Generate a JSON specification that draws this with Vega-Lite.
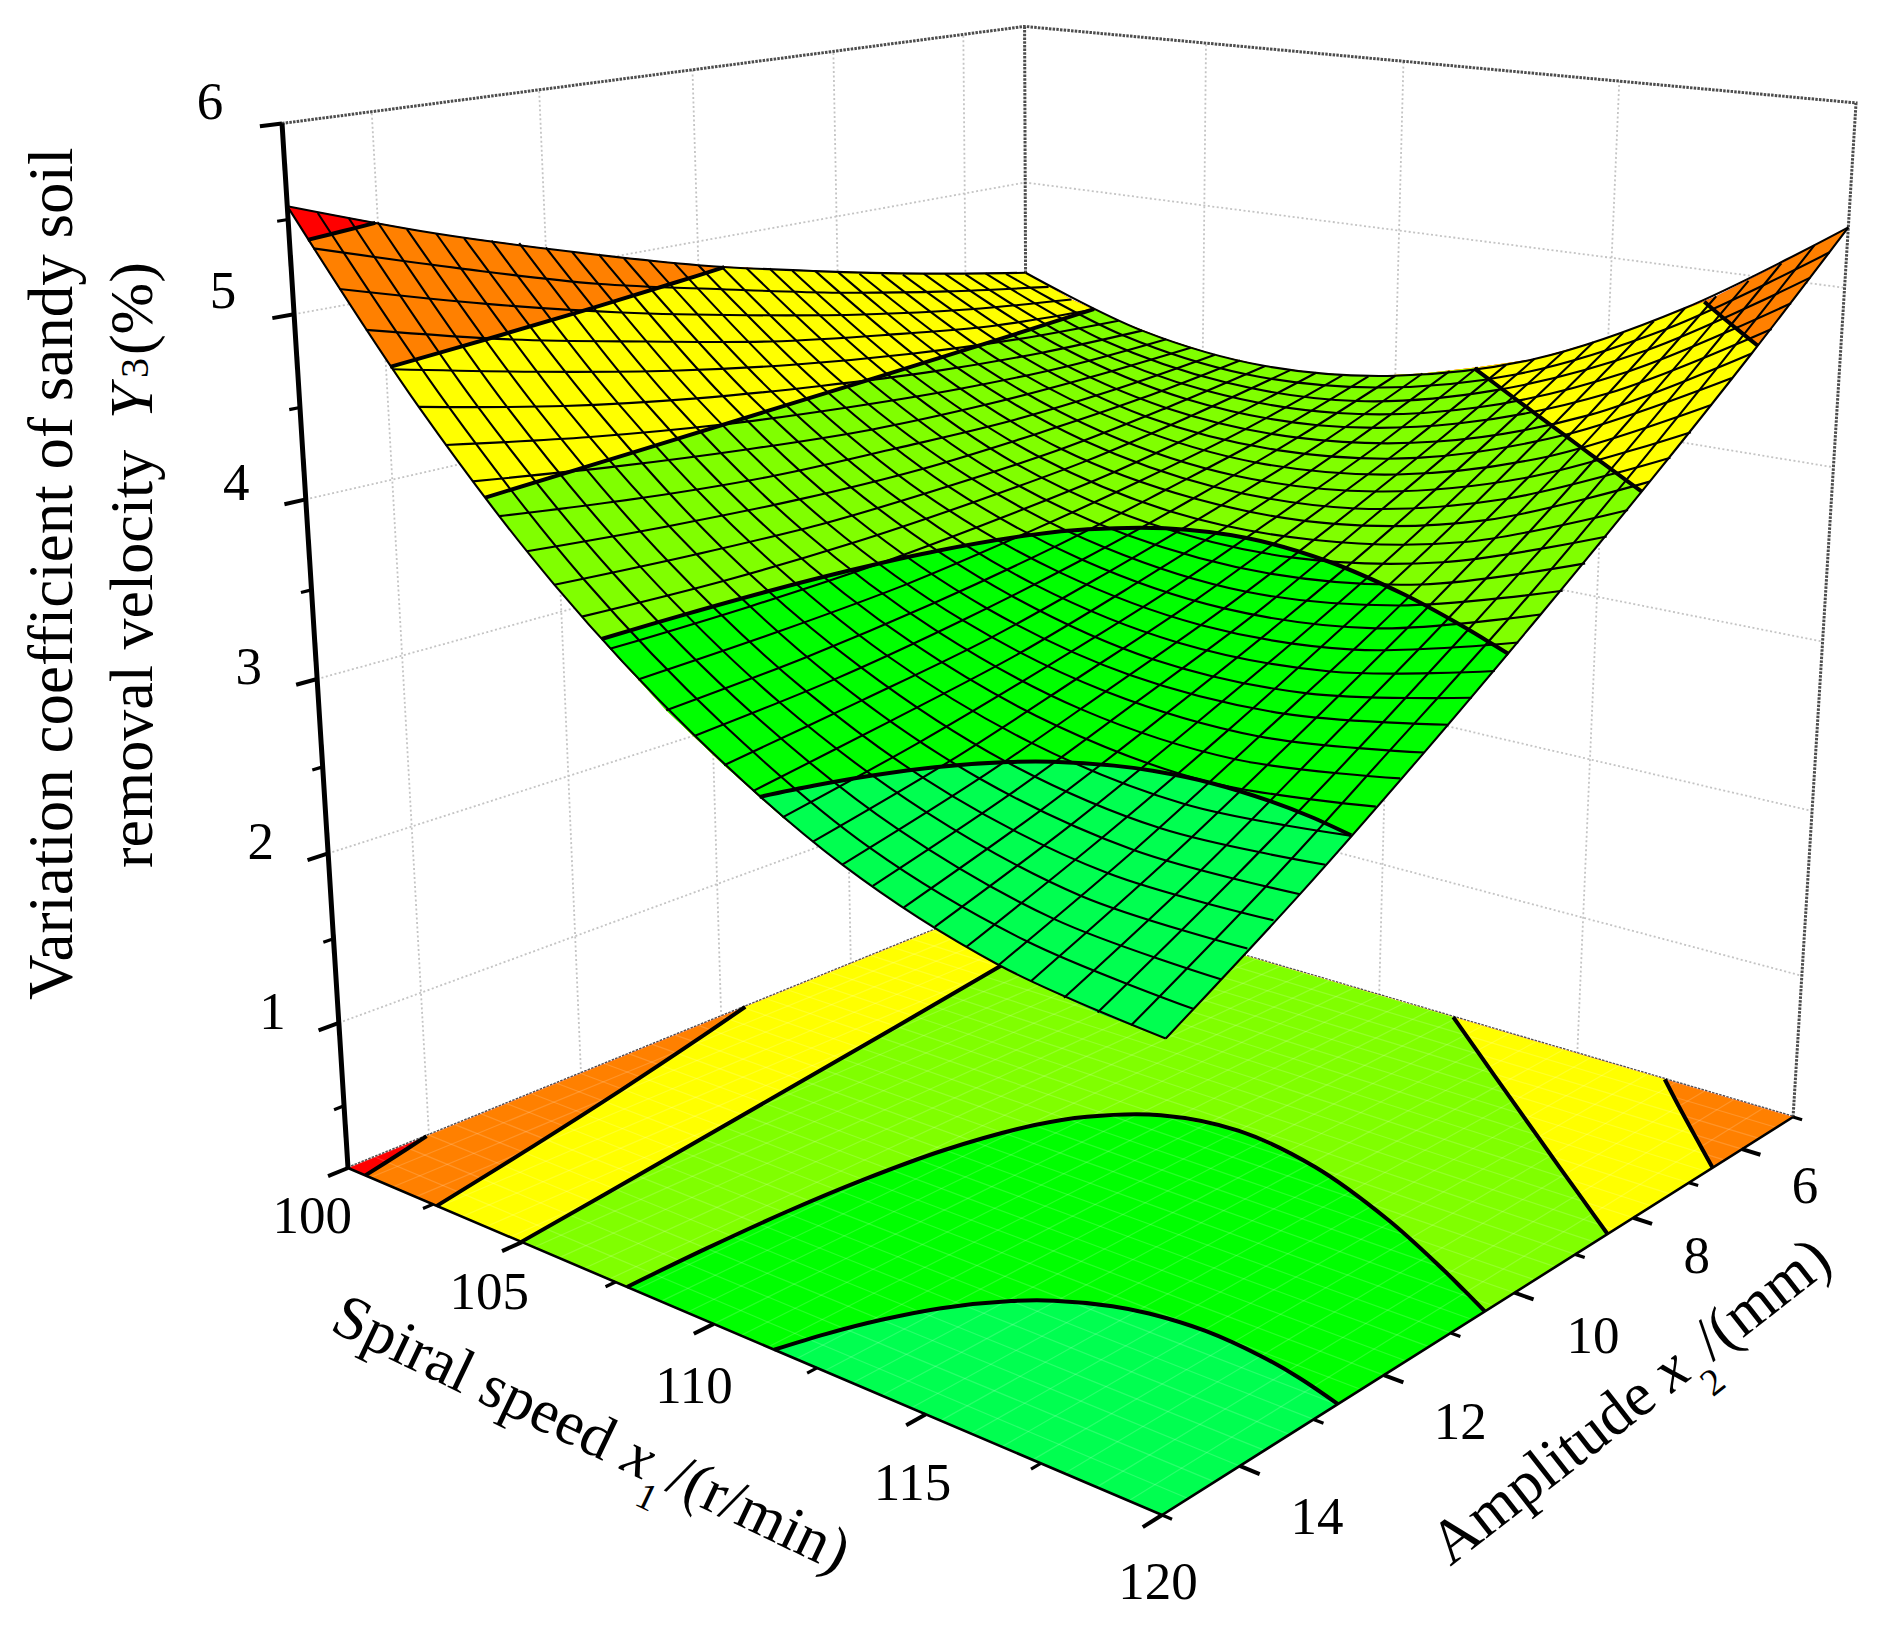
{
"$schema":"https://vega.github.io/schema/vega-lite/v6.json",
"width":1882,"height":1626,"padding":0,"autosize":{"type":"none"},
"background":"white",
"config":{"view":{"stroke":null}},
"data":{"values":[
{"kind":"grid","id":"h1","x1":100,"x2":15,"y3":1},{"kind":"grid","id":"h1","x1":100,"x2":5,"y3":1},{"kind":"grid","id":"h1","x1":120,"x2":5,"y3":1},
{"kind":"grid","id":"h2","x1":100,"x2":15,"y3":2},{"kind":"grid","id":"h2","x1":100,"x2":5,"y3":2},{"kind":"grid","id":"h2","x1":120,"x2":5,"y3":2},
{"kind":"grid","id":"h3","x1":100,"x2":15,"y3":3},{"kind":"grid","id":"h3","x1":100,"x2":5,"y3":3},{"kind":"grid","id":"h3","x1":120,"x2":5,"y3":3},
{"kind":"grid","id":"h4","x1":100,"x2":15,"y3":4},{"kind":"grid","id":"h4","x1":100,"x2":5,"y3":4},{"kind":"grid","id":"h4","x1":120,"x2":5,"y3":4},
{"kind":"grid","id":"h5","x1":100,"x2":15,"y3":5},{"kind":"grid","id":"h5","x1":100,"x2":5,"y3":5},{"kind":"grid","id":"h5","x1":120,"x2":5,"y3":5},
{"kind":"grid","id":"a6","x1":100,"x2":6,"y3":0.12},{"kind":"grid","id":"a6","x1":100,"x2":6,"y3":6},
{"kind":"grid","id":"a8","x1":100,"x2":8,"y3":0.12},{"kind":"grid","id":"a8","x1":100,"x2":8,"y3":6},
{"kind":"grid","id":"a10","x1":100,"x2":10,"y3":0.12},{"kind":"grid","id":"a10","x1":100,"x2":10,"y3":6},
{"kind":"grid","id":"a12","x1":100,"x2":12,"y3":0.12},{"kind":"grid","id":"a12","x1":100,"x2":12,"y3":6},
{"kind":"grid","id":"a14","x1":100,"x2":14,"y3":0.12},{"kind":"grid","id":"a14","x1":100,"x2":14,"y3":6},
{"kind":"grid","id":"s105","x1":105,"x2":5,"y3":0.12},{"kind":"grid","id":"s105","x1":105,"x2":5,"y3":6},
{"kind":"grid","id":"s110","x1":110,"x2":5,"y3":0.12},{"kind":"grid","id":"s110","x1":110,"x2":5,"y3":6},
{"kind":"grid","id":"s115","x1":115,"x2":5,"y3":0.12},{"kind":"grid","id":"s115","x1":115,"x2":5,"y3":6},
{"kind":"frame","id":"f1","x1":100,"x2":15,"y3":6},{"kind":"frame","id":"f1","x1":100,"x2":5,"y3":6},{"kind":"frame","id":"f1","x1":120,"x2":5,"y3":6},{"kind":"frame","id":"f1","x1":120,"x2":5,"y3":0.12},
{"kind":"frame","id":"f2","x1":100,"x2":5,"y3":6},{"kind":"frame","id":"f2","x1":100,"x2":5,"y3":0.12},
{"kind":"frame","id":"f3","x1":100,"x2":15,"y3":0.12},{"kind":"frame","id":"f3","x1":100,"x2":5,"y3":0.12},{"kind":"frame","id":"f3","x1":120,"x2":5,"y3":0.12},
{"kind":"zaxis","x1":100,"x2":15,"y3":0.12},{"kind":"zaxis","x1":100,"x2":15,"y3":6},
{"kind":"edge","x1":100,"x2":15,"y3":0.12},{"kind":"edge","x1":120,"x2":15,"y3":0.12},{"kind":"edge","x1":120,"x2":5,"y3":0.12},

{"kind":"major","id":"z1","x1":100,"x2":15,"y3":1},{"kind":"major","id":"z1","x1":100,"x2":15.24,"y3":1},
{"kind":"major","id":"z2","x1":100,"x2":15,"y3":2},{"kind":"major","id":"z2","x1":100,"x2":15.24,"y3":2},
{"kind":"major","id":"z3","x1":100,"x2":15,"y3":3},{"kind":"major","id":"z3","x1":100,"x2":15.24,"y3":3},
{"kind":"major","id":"z4","x1":100,"x2":15,"y3":4},{"kind":"major","id":"z4","x1":100,"x2":15.24,"y3":4},
{"kind":"major","id":"z5","x1":100,"x2":15,"y3":5},{"kind":"major","id":"z5","x1":100,"x2":15.24,"y3":5},
{"kind":"major","id":"z6","x1":100,"x2":15,"y3":6},{"kind":"major","id":"z6","x1":100,"x2":15.24,"y3":6},
{"kind":"major","id":"s100","x1":100,"x2":15,"y3":0.12},{"kind":"major","id":"s100","x1":100,"x2":15.24,"y3":0.12},
{"kind":"major","id":"s105","x1":105,"x2":15,"y3":0.12},{"kind":"major","id":"s105","x1":105,"x2":15.24,"y3":0.12},
{"kind":"major","id":"s110","x1":110,"x2":15,"y3":0.12},{"kind":"major","id":"s110","x1":110,"x2":15.24,"y3":0.12},
{"kind":"major","id":"s115","x1":115,"x2":15,"y3":0.12},{"kind":"major","id":"s115","x1":115,"x2":15.24,"y3":0.12},
{"kind":"major","id":"s120","x1":120,"x2":15,"y3":0.12},{"kind":"major","id":"s120","x1":120,"x2":15.24,"y3":0.12},
{"kind":"major","id":"a6","x1":120,"x2":6,"y3":0.12},{"kind":"major","id":"a6","x1":120.4,"x2":6,"y3":0.12},
{"kind":"major","id":"a8","x1":120,"x2":8,"y3":0.12},{"kind":"major","id":"a8","x1":120.4,"x2":8,"y3":0.12},
{"kind":"major","id":"a10","x1":120,"x2":10,"y3":0.12},{"kind":"major","id":"a10","x1":120.4,"x2":10,"y3":0.12},
{"kind":"major","id":"a12","x1":120,"x2":12,"y3":0.12},{"kind":"major","id":"a12","x1":120.4,"x2":12,"y3":0.12},
{"kind":"major","id":"a14","x1":120,"x2":14,"y3":0.12},{"kind":"major","id":"a14","x1":120.4,"x2":14,"y3":0.12},
{"kind":"minor","id":"z05","x1":100,"x2":15,"y3":0.5},{"kind":"minor","id":"z05","x1":100,"x2":15.12,"y3":0.5},
{"kind":"minor","id":"z15","x1":100,"x2":15,"y3":1.5},{"kind":"minor","id":"z15","x1":100,"x2":15.12,"y3":1.5},
{"kind":"minor","id":"z25","x1":100,"x2":15,"y3":2.5},{"kind":"minor","id":"z25","x1":100,"x2":15.12,"y3":2.5},
{"kind":"minor","id":"z35","x1":100,"x2":15,"y3":3.5},{"kind":"minor","id":"z35","x1":100,"x2":15.12,"y3":3.5},
{"kind":"minor","id":"z45","x1":100,"x2":15,"y3":4.5},{"kind":"minor","id":"z45","x1":100,"x2":15.12,"y3":4.5},
{"kind":"minor","id":"z55","x1":100,"x2":15,"y3":5.5},{"kind":"minor","id":"z55","x1":100,"x2":15.12,"y3":5.5},
{"kind":"minor","id":"s102","x1":102.5,"x2":15,"y3":0.12},{"kind":"minor","id":"s102","x1":102.5,"x2":15.12,"y3":0.12},
{"kind":"minor","id":"s107","x1":107.5,"x2":15,"y3":0.12},{"kind":"minor","id":"s107","x1":107.5,"x2":15.12,"y3":0.12},
{"kind":"minor","id":"s112","x1":112.5,"x2":15,"y3":0.12},{"kind":"minor","id":"s112","x1":112.5,"x2":15.12,"y3":0.12},
{"kind":"minor","id":"s117","x1":117.5,"x2":15,"y3":0.12},{"kind":"minor","id":"s117","x1":117.5,"x2":15.12,"y3":0.12},
{"kind":"minor","id":"a5","x1":120,"x2":5,"y3":0.12},{"kind":"minor","id":"a5","x1":120.2,"x2":5,"y3":0.12},
{"kind":"minor","id":"a7","x1":120,"x2":7,"y3":0.12},{"kind":"minor","id":"a7","x1":120.2,"x2":7,"y3":0.12},
{"kind":"minor","id":"a9","x1":120,"x2":9,"y3":0.12},{"kind":"minor","id":"a9","x1":120.2,"x2":9,"y3":0.12},
{"kind":"minor","id":"a11","x1":120,"x2":11,"y3":0.12},{"kind":"minor","id":"a11","x1":120.2,"x2":11,"y3":0.12},
{"kind":"minor","id":"a13","x1":120,"x2":13,"y3":0.12},{"kind":"minor","id":"a13","x1":120.2,"x2":13,"y3":0.12},
{"kind":"minor","id":"a15","x1":120,"x2":15,"y3":0.12},{"kind":"minor","id":"a15","x1":120.2,"x2":15,"y3":0.12},

{"kind":"band","band":"r0","x1":100,"x2":15,"y3":5.57},{"kind":"band","band":"r0","x1":101.33,"x2":15,"y3":5.18},{"kind":"band","band":"r0","x1":102.67,"x2":15,"y3":4.81},{"kind":"band","band":"r0","x1":104,"x2":15,"y3":4.47},{"kind":"band","band":"r0","x1":105.33,"x2":15,"y3":4.16},{"kind":"band","band":"r0","x1":106.67,"x2":15,"y3":3.87},{"kind":"band","band":"r0","x1":108,"x2":15,"y3":3.61},{"kind":"band","band":"r0","x1":109.33,"x2":15,"y3":3.37},{"kind":"band","band":"r0","x1":110.67,"x2":15,"y3":3.17},{"kind":"band","band":"r0","x1":112,"x2":15,"y3":2.99},{"kind":"band","band":"r0","x1":113.33,"x2":15,"y3":2.84},{"kind":"band","band":"r0","x1":114.67,"x2":15,"y3":2.72},{"kind":"band","band":"r0","x1":116,"x2":15,"y3":2.62},{"kind":"band","band":"r0","x1":117.33,"x2":15,"y3":2.55},{"kind":"band","band":"r0","x1":118.67,"x2":15,"y3":2.5},{"kind":"band","band":"r0","x1":120,"x2":15,"y3":2.48},
{"kind":"band","band":"r0","x1":120,"x2":13.33,"y3":2.88},{"kind":"band","band":"r0","x1":120,"x2":11.67,"y3":3.32},{"kind":"band","band":"r0","x1":120,"x2":10,"y3":3.79},{"kind":"band","band":"r0","x1":120,"x2":8.33,"y3":4.28},{"kind":"band","band":"r0","x1":120,"x2":6.67,"y3":4.79},{"kind":"band","band":"r0","x1":120,"x2":5,"y3":5.33},
{"kind":"band","band":"r0","x1":118.67,"x2":5,"y3":5.09},{"kind":"band","band":"r0","x1":117.33,"x2":5,"y3":4.86},{"kind":"band","band":"r0","x1":116,"x2":5,"y3":4.67},{"kind":"band","band":"r0","x1":114.67,"x2":5,"y3":4.5},{"kind":"band","band":"r0","x1":113.33,"x2":5,"y3":4.35},{"kind":"band","band":"r0","x1":112,"x2":5,"y3":4.25},{"kind":"band","band":"r0","x1":110.67,"x2":5,"y3":4.16},{"kind":"band","band":"r0","x1":109.33,"x2":5,"y3":4.09},{"kind":"band","band":"r0","x1":108,"x2":5,"y3":4.06},{"kind":"band","band":"r0","x1":106.67,"x2":5,"y3":4.05},{"kind":"band","band":"r0","x1":105.33,"x2":5,"y3":4.07},{"kind":"band","band":"r0","x1":104,"x2":5,"y3":4.12},{"kind":"band","band":"r0","x1":102.67,"x2":5,"y3":4.19},{"kind":"band","band":"r0","x1":101.33,"x2":5,"y3":4.28},{"kind":"band","band":"r0","x1":100,"x2":5,"y3":4.41},
{"kind":"band","band":"r0","x1":100,"x2":6.67,"y3":4.54},{"kind":"band","band":"r0","x1":100,"x2":8.33,"y3":4.69},{"kind":"band","band":"r0","x1":100,"x2":10,"y3":4.86},{"kind":"band","band":"r0","x1":100,"x2":11.67,"y3":5.07},{"kind":"band","band":"r0","x1":100,"x2":13.33,"y3":5.3},

{"kind":"band","band":"r1","c":"c54","x1":100,"x2":14.03,"y3":5.41},{"kind":"band","band":"r1","c":"c54","x1":100.26,"x2":14.5,"y3":5.41},{"kind":"band","band":"r1","c":"c54","x1":100.52,"x2":15,"y3":5.41},
{"kind":"band","band":"r1","x1":101.33,"x2":15,"y3":5.18},{"kind":"band","band":"r1","x1":102.67,"x2":15,"y3":4.81},{"kind":"band","band":"r1","x1":104,"x2":15,"y3":4.47},{"kind":"band","band":"r1","x1":105.33,"x2":15,"y3":4.16},{"kind":"band","band":"r1","x1":106.67,"x2":15,"y3":3.87},{"kind":"band","band":"r1","x1":108,"x2":15,"y3":3.61},{"kind":"band","band":"r1","x1":109.33,"x2":15,"y3":3.37},{"kind":"band","band":"r1","x1":110.67,"x2":15,"y3":3.17},{"kind":"band","band":"r1","x1":112,"x2":15,"y3":2.99},{"kind":"band","band":"r1","x1":113.33,"x2":15,"y3":2.84},{"kind":"band","band":"r1","x1":114.67,"x2":15,"y3":2.72},{"kind":"band","band":"r1","x1":116,"x2":15,"y3":2.62},{"kind":"band","band":"r1","x1":117.33,"x2":15,"y3":2.55},{"kind":"band","band":"r1","x1":118.67,"x2":15,"y3":2.5},{"kind":"band","band":"r1","x1":120,"x2":15,"y3":2.48},
{"kind":"band","band":"r1","x1":120,"x2":13.33,"y3":2.88},{"kind":"band","band":"r1","x1":120,"x2":11.67,"y3":3.32},{"kind":"band","band":"r1","x1":120,"x2":10,"y3":3.79},{"kind":"band","band":"r1","x1":120,"x2":8.33,"y3":4.28},{"kind":"band","band":"r1","x1":120,"x2":6.67,"y3":4.79},{"kind":"band","band":"r1","x1":120,"x2":5,"y3":5.33},
{"kind":"band","band":"r1","x1":118.67,"x2":5,"y3":5.09},{"kind":"band","band":"r1","x1":117.33,"x2":5,"y3":4.86},{"kind":"band","band":"r1","x1":116,"x2":5,"y3":4.67},{"kind":"band","band":"r1","x1":114.67,"x2":5,"y3":4.5},{"kind":"band","band":"r1","x1":113.33,"x2":5,"y3":4.35},{"kind":"band","band":"r1","x1":112,"x2":5,"y3":4.25},{"kind":"band","band":"r1","x1":110.67,"x2":5,"y3":4.16},{"kind":"band","band":"r1","x1":109.33,"x2":5,"y3":4.09},{"kind":"band","band":"r1","x1":108,"x2":5,"y3":4.06},{"kind":"band","band":"r1","x1":106.67,"x2":5,"y3":4.05},{"kind":"band","band":"r1","x1":105.33,"x2":5,"y3":4.07},{"kind":"band","band":"r1","x1":104,"x2":5,"y3":4.12},{"kind":"band","band":"r1","x1":102.67,"x2":5,"y3":4.19},{"kind":"band","band":"r1","x1":101.33,"x2":5,"y3":4.28},{"kind":"band","band":"r1","x1":100,"x2":5,"y3":4.41},
{"kind":"band","band":"r1","x1":100,"x2":6.67,"y3":4.54},{"kind":"band","band":"r1","x1":100,"x2":8.33,"y3":4.69},{"kind":"band","band":"r1","x1":100,"x2":10,"y3":4.86},{"kind":"band","band":"r1","x1":100,"x2":11.67,"y3":5.07},{"kind":"band","band":"r1","x1":100,"x2":13.33,"y3":5.3},

{"kind":"band","band":"r2","c":"c48a","x1":102.61,"x2":15,"y3":4.82},{"kind":"band","band":"r2","c":"c48a","x1":101.95,"x2":13.5,"y3":4.82},{"kind":"band","band":"r2","c":"c48a","x1":101.24,"x2":12,"y3":4.82},{"kind":"band","band":"r2","c":"c48a","x1":100.47,"x2":10.5,"y3":4.82},{"kind":"band","band":"r2","c":"c48a","x1":100,"x2":9.64,"y3":4.82},
{"kind":"band","band":"r2","x1":100,"x2":8.33,"y3":4.69},{"kind":"band","band":"r2","x1":100,"x2":6.67,"y3":4.54},{"kind":"band","band":"r2","x1":100,"x2":5,"y3":4.41},
{"kind":"band","band":"r2","x1":101.33,"x2":5,"y3":4.28},{"kind":"band","band":"r2","x1":102.67,"x2":5,"y3":4.19},{"kind":"band","band":"r2","x1":104,"x2":5,"y3":4.12},{"kind":"band","band":"r2","x1":105.33,"x2":5,"y3":4.07},{"kind":"band","band":"r2","x1":106.67,"x2":5,"y3":4.05},{"kind":"band","band":"r2","x1":108,"x2":5,"y3":4.06},{"kind":"band","band":"r2","x1":109.33,"x2":5,"y3":4.09},{"kind":"band","band":"r2","x1":110.67,"x2":5,"y3":4.16},{"kind":"band","band":"r2","x1":112,"x2":5,"y3":4.25},{"kind":"band","band":"r2","x1":113.33,"x2":5,"y3":4.35},{"kind":"band","band":"r2","x1":114.67,"x2":5,"y3":4.5},{"kind":"band","band":"r2","x1":116,"x2":5,"y3":4.67},
{"kind":"band","band":"r2","c":"c48b","x1":117.08,"x2":5,"y3":4.82},{"kind":"band","band":"r2","c":"c48b","x1":118,"x2":5.5,"y3":4.82},{"kind":"band","band":"r2","c":"c48b","x1":118.94,"x2":6,"y3":4.82},{"kind":"band","band":"r2","c":"c48b","x1":120,"x2":6.56,"y3":4.82},
{"kind":"band","band":"r2","x1":120,"x2":8.33,"y3":4.28},{"kind":"band","band":"r2","x1":120,"x2":10,"y3":3.79},{"kind":"band","band":"r2","x1":120,"x2":11.67,"y3":3.32},{"kind":"band","band":"r2","x1":120,"x2":13.33,"y3":2.88},{"kind":"band","band":"r2","x1":120,"x2":15,"y3":2.48},
{"kind":"band","band":"r2","x1":118.67,"x2":15,"y3":2.5},{"kind":"band","band":"r2","x1":117.33,"x2":15,"y3":2.55},{"kind":"band","band":"r2","x1":116,"x2":15,"y3":2.62},{"kind":"band","band":"r2","x1":114.67,"x2":15,"y3":2.72},{"kind":"band","band":"r2","x1":113.33,"x2":15,"y3":2.84},{"kind":"band","band":"r2","x1":112,"x2":15,"y3":2.99},{"kind":"band","band":"r2","x1":110.67,"x2":15,"y3":3.17},{"kind":"band","band":"r2","x1":109.33,"x2":15,"y3":3.37},{"kind":"band","band":"r2","x1":108,"x2":15,"y3":3.61},{"kind":"band","band":"r2","x1":106.67,"x2":15,"y3":3.87},{"kind":"band","band":"r2","x1":105.33,"x2":15,"y3":4.16},{"kind":"band","band":"r2","x1":104,"x2":15,"y3":4.47},

{"kind":"band","band":"r3","c":"c42a","x1":104.98,"x2":15,"y3":4.24},{"kind":"band","band":"r3","c":"c42a","x1":104.41,"x2":13,"y3":4.24},{"kind":"band","band":"r3","c":"c42a","x1":103.82,"x2":11,"y3":4.24},{"kind":"band","band":"r3","c":"c42a","x1":103.23,"x2":9,"y3":4.24},{"kind":"band","band":"r3","c":"c42a","x1":102.62,"x2":7,"y3":4.24},{"kind":"band","band":"r3","c":"c42a","x1":101.97,"x2":5,"y3":4.24},
{"kind":"band","band":"r3","x1":102.67,"x2":5,"y3":4.19},{"kind":"band","band":"r3","x1":104,"x2":5,"y3":4.12},{"kind":"band","band":"r3","x1":105.33,"x2":5,"y3":4.07},{"kind":"band","band":"r3","x1":106.67,"x2":5,"y3":4.05},{"kind":"band","band":"r3","x1":108,"x2":5,"y3":4.06},{"kind":"band","band":"r3","x1":109.33,"x2":5,"y3":4.09},{"kind":"band","band":"r3","x1":110.67,"x2":5,"y3":4.16},
{"kind":"band","band":"r3","c":"c42b","x1":111.92,"x2":5,"y3":4.24},{"kind":"band","band":"r3","c":"c42b","x1":114.25,"x2":6,"y3":4.24},{"kind":"band","band":"r3","c":"c42b","x1":116.59,"x2":7,"y3":4.24},{"kind":"band","band":"r3","c":"c42b","x1":117.76,"x2":7.5,"y3":4.24},{"kind":"band","band":"r3","c":"c42b","x1":118.94,"x2":8,"y3":4.24},{"kind":"band","band":"r3","c":"c42b","x1":120,"x2":8.45,"y3":4.24},
{"kind":"band","band":"r3","x1":120,"x2":10,"y3":3.79},{"kind":"band","band":"r3","x1":120,"x2":11.67,"y3":3.32},{"kind":"band","band":"r3","x1":120,"x2":13.33,"y3":2.88},{"kind":"band","band":"r3","x1":120,"x2":15,"y3":2.48},
{"kind":"band","band":"r3","x1":118.67,"x2":15,"y3":2.5},{"kind":"band","band":"r3","x1":117.33,"x2":15,"y3":2.55},{"kind":"band","band":"r3","x1":116,"x2":15,"y3":2.62},{"kind":"band","band":"r3","x1":114.67,"x2":15,"y3":2.72},{"kind":"band","band":"r3","x1":113.33,"x2":15,"y3":2.84},{"kind":"band","band":"r3","x1":112,"x2":15,"y3":2.99},{"kind":"band","band":"r3","x1":110.67,"x2":15,"y3":3.17},{"kind":"band","band":"r3","x1":109.33,"x2":15,"y3":3.37},{"kind":"band","band":"r3","x1":108,"x2":15,"y3":3.61},{"kind":"band","band":"r3","x1":106.67,"x2":15,"y3":3.87},

{"kind":"band","band":"r4","c":"c36","x1":107.8,"x2":15,"y3":3.65},{"kind":"band","band":"r4","c":"c36","x1":107.77,"x2":14,"y3":3.65},{"kind":"band","band":"r4","c":"c36","x1":107.8,"x2":13,"y3":3.65},{"kind":"band","band":"r4","c":"c36","x1":107.93,"x2":12,"y3":3.65},{"kind":"band","band":"r4","c":"c36","x1":108.2,"x2":11,"y3":3.65},{"kind":"band","band":"r4","c":"c36","x1":108.76,"x2":10,"y3":3.65},{"kind":"band","band":"r4","c":"c36","x1":109.3,"x2":9.5,"y3":3.65},{"kind":"band","band":"r4","c":"c36","x1":110.37,"x2":9,"y3":3.65},{"kind":"band","band":"r4","c":"c36","x1":112,"x2":8.8,"y3":3.65},{"kind":"band","band":"r4","c":"c36","x1":114.16,"x2":9,"y3":3.65},{"kind":"band","band":"r4","c":"c36","x1":116.56,"x2":9.5,"y3":3.65},{"kind":"band","band":"r4","c":"c36","x1":118.42,"x2":10,"y3":3.65},{"kind":"band","band":"r4","c":"c36","x1":119.27,"x2":10.25,"y3":3.65},{"kind":"band","band":"r4","c":"c36","x1":120,"x2":10.47,"y3":3.65},
{"kind":"band","band":"r4","x1":120,"x2":11.67,"y3":3.32},{"kind":"band","band":"r4","x1":120,"x2":13.33,"y3":2.88},{"kind":"band","band":"r4","x1":120,"x2":15,"y3":2.48},
{"kind":"band","band":"r4","x1":118.67,"x2":15,"y3":2.5},{"kind":"band","band":"r4","x1":117.33,"x2":15,"y3":2.55},{"kind":"band","band":"r4","x1":116,"x2":15,"y3":2.62},{"kind":"band","band":"r4","x1":114.67,"x2":15,"y3":2.72},{"kind":"band","band":"r4","x1":113.33,"x2":15,"y3":2.84},{"kind":"band","band":"r4","x1":112,"x2":15,"y3":2.99},{"kind":"band","band":"r4","x1":110.67,"x2":15,"y3":3.17},{"kind":"band","band":"r4","x1":109.33,"x2":15,"y3":3.37},{"kind":"band","band":"r4","x1":108,"x2":15,"y3":3.61},

{"kind":"band","band":"r5","c":"c30","x1":111.48,"x2":15,"y3":3.06},{"kind":"band","band":"r5","c":"c30","x1":111.76,"x2":14.5,"y3":3.06},{"kind":"band","band":"r5","c":"c30","x1":112.13,"x2":14,"y3":3.06},{"kind":"band","band":"r5","c":"c30","x1":112.63,"x2":13.5,"y3":3.06},{"kind":"band","band":"r5","c":"c30","x1":113.39,"x2":13,"y3":3.06},{"kind":"band","band":"r5","c":"c30","x1":113.96,"x2":12.75,"y3":3.06},{"kind":"band","band":"r5","c":"c30","x1":114.88,"x2":12.5,"y3":3.06},{"kind":"band","band":"r5","c":"c30","x1":115.55,"x2":12.4,"y3":3.06},{"kind":"band","band":"r5","c":"c30","x1":116.71,"x2":12.34,"y3":3.06},{"kind":"band","band":"r5","c":"c30","x1":118.02,"x2":12.4,"y3":3.06},{"kind":"band","band":"r5","c":"c30","x1":118.96,"x2":12.5,"y3":3.06},{"kind":"band","band":"r5","c":"c30","x1":120,"x2":12.66,"y3":3.06},
{"kind":"band","band":"r5","x1":120,"x2":13.33,"y3":2.88},{"kind":"band","band":"r5","x1":120,"x2":15,"y3":2.48},
{"kind":"band","band":"r5","x1":118.67,"x2":15,"y3":2.5},{"kind":"band","band":"r5","x1":117.33,"x2":15,"y3":2.55},{"kind":"band","band":"r5","x1":116,"x2":15,"y3":2.62},{"kind":"band","band":"r5","x1":114.67,"x2":15,"y3":2.72},{"kind":"band","band":"r5","x1":113.33,"x2":15,"y3":2.84},{"kind":"band","band":"r5","x1":112,"x2":15,"y3":2.99},

{"kind":"ms","x1":100,"x2":5,"y3":4.41},{"kind":"ms","x1":100,"x2":6.67,"y3":4.54},{"kind":"ms","x1":100,"x2":8.33,"y3":4.69},{"kind":"ms","x1":100,"x2":10,"y3":4.86},{"kind":"ms","x1":100,"x2":11.67,"y3":5.07},{"kind":"ms","x1":100,"x2":13.33,"y3":5.3},{"kind":"ms","x1":100,"x2":15,"y3":5.57},
{"kind":"ms","x1":100.67,"x2":5,"y3":4.34},{"kind":"ms","x1":100.67,"x2":6.67,"y3":4.45},{"kind":"ms","x1":100.67,"x2":8.33,"y3":4.58},{"kind":"ms","x1":100.67,"x2":10,"y3":4.74},{"kind":"ms","x1":100.67,"x2":11.67,"y3":4.91},{"kind":"ms","x1":100.67,"x2":13.33,"y3":5.13},{"kind":"ms","x1":100.67,"x2":15,"y3":5.37},
{"kind":"ms","x1":101.33,"x2":5,"y3":4.28},{"kind":"ms","x1":101.33,"x2":6.67,"y3":4.36},{"kind":"ms","x1":101.33,"x2":8.33,"y3":4.47},{"kind":"ms","x1":101.33,"x2":10,"y3":4.61},{"kind":"ms","x1":101.33,"x2":11.67,"y3":4.77},{"kind":"ms","x1":101.33,"x2":13.33,"y3":4.96},{"kind":"ms","x1":101.33,"x2":15,"y3":5.18},
{"kind":"ms","x1":102,"x2":5,"y3":4.24},{"kind":"ms","x1":102,"x2":6.67,"y3":4.28},{"kind":"ms","x1":102,"x2":8.33,"y3":4.37},{"kind":"ms","x1":102,"x2":10,"y3":4.48},{"kind":"ms","x1":102,"x2":11.67,"y3":4.63},{"kind":"ms","x1":102,"x2":13.33,"y3":4.79},{"kind":"ms","x1":102,"x2":15,"y3":4.99},
{"kind":"ms","x1":102.67,"x2":5,"y3":4.19},{"kind":"ms","x1":102.67,"x2":6.67,"y3":4.22},{"kind":"ms","x1":102.67,"x2":8.33,"y3":4.28},{"kind":"ms","x1":102.67,"x2":10,"y3":4.37},{"kind":"ms","x1":102.67,"x2":11.67,"y3":4.49},{"kind":"ms","x1":102.67,"x2":13.33,"y3":4.64},{"kind":"ms","x1":102.67,"x2":15,"y3":4.81},
{"kind":"ms","x1":103.33,"x2":5,"y3":4.15},{"kind":"ms","x1":103.33,"x2":6.67,"y3":4.16},{"kind":"ms","x1":103.33,"x2":8.33,"y3":4.2},{"kind":"ms","x1":103.33,"x2":10,"y3":4.27},{"kind":"ms","x1":103.33,"x2":11.67,"y3":4.36},{"kind":"ms","x1":103.33,"x2":13.33,"y3":4.48},{"kind":"ms","x1":103.33,"x2":15,"y3":4.64},
{"kind":"ms","x1":104,"x2":5,"y3":4.12},{"kind":"ms","x1":104,"x2":6.67,"y3":4.1},{"kind":"ms","x1":104,"x2":8.33,"y3":4.12},{"kind":"ms","x1":104,"x2":10,"y3":4.17},{"kind":"ms","x1":104,"x2":11.67,"y3":4.24},{"kind":"ms","x1":104,"x2":13.33,"y3":4.34},{"kind":"ms","x1":104,"x2":15,"y3":4.47},
{"kind":"ms","x1":104.67,"x2":5,"y3":4.09},{"kind":"ms","x1":104.67,"x2":6.67,"y3":4.06},{"kind":"ms","x1":104.67,"x2":8.33,"y3":4.05},{"kind":"ms","x1":104.67,"x2":10,"y3":4.07},{"kind":"ms","x1":104.67,"x2":11.67,"y3":4.13},{"kind":"ms","x1":104.67,"x2":13.33,"y3":4.21},{"kind":"ms","x1":104.67,"x2":15,"y3":4.31},
{"kind":"ms","x1":105.33,"x2":5,"y3":4.07},{"kind":"ms","x1":105.33,"x2":6.67,"y3":4.01},{"kind":"ms","x1":105.33,"x2":8.33,"y3":3.98},{"kind":"ms","x1":105.33,"x2":10,"y3":3.99},{"kind":"ms","x1":105.33,"x2":11.67,"y3":4.01},{"kind":"ms","x1":105.33,"x2":13.33,"y3":4.07},{"kind":"ms","x1":105.33,"x2":15,"y3":4.16},
{"kind":"ms","x1":106,"x2":5,"y3":4.06},{"kind":"ms","x1":106,"x2":6.67,"y3":3.98},{"kind":"ms","x1":106,"x2":8.33,"y3":3.93},{"kind":"ms","x1":106,"x2":10,"y3":3.9},{"kind":"ms","x1":106,"x2":11.67,"y3":3.91},{"kind":"ms","x1":106,"x2":13.33,"y3":3.95},{"kind":"ms","x1":106,"x2":15,"y3":4.01},
{"kind":"ms","x1":106.67,"x2":5,"y3":4.05},{"kind":"ms","x1":106.67,"x2":6.67,"y3":3.95},{"kind":"ms","x1":106.67,"x2":8.33,"y3":3.87},{"kind":"ms","x1":106.67,"x2":10,"y3":3.83},{"kind":"ms","x1":106.67,"x2":11.67,"y3":3.81},{"kind":"ms","x1":106.67,"x2":13.33,"y3":3.83},{"kind":"ms","x1":106.67,"x2":15,"y3":3.87},
{"kind":"ms","x1":107.33,"x2":5,"y3":4.05},{"kind":"ms","x1":107.33,"x2":6.67,"y3":3.93},{"kind":"ms","x1":107.33,"x2":8.33,"y3":3.83},{"kind":"ms","x1":107.33,"x2":10,"y3":3.77},{"kind":"ms","x1":107.33,"x2":11.67,"y3":3.73},{"kind":"ms","x1":107.33,"x2":13.33,"y3":3.72},{"kind":"ms","x1":107.33,"x2":15,"y3":3.74},
{"kind":"ms","x1":108,"x2":5,"y3":4.06},{"kind":"ms","x1":108,"x2":6.67,"y3":3.91},{"kind":"ms","x1":108,"x2":8.33,"y3":3.79},{"kind":"ms","x1":108,"x2":10,"y3":3.71},{"kind":"ms","x1":108,"x2":11.67,"y3":3.65},{"kind":"ms","x1":108,"x2":13.33,"y3":3.62},{"kind":"ms","x1":108,"x2":15,"y3":3.61},
{"kind":"ms","x1":108.67,"x2":5,"y3":4.07},{"kind":"ms","x1":108.67,"x2":6.67,"y3":3.9},{"kind":"ms","x1":108.67,"x2":8.33,"y3":3.77},{"kind":"ms","x1":108.67,"x2":10,"y3":3.66},{"kind":"ms","x1":108.67,"x2":11.67,"y3":3.57},{"kind":"ms","x1":108.67,"x2":13.33,"y3":3.52},{"kind":"ms","x1":108.67,"x2":15,"y3":3.49},
{"kind":"ms","x1":109.33,"x2":5,"y3":4.09},{"kind":"ms","x1":109.33,"x2":6.67,"y3":3.9},{"kind":"ms","x1":109.33,"x2":8.33,"y3":3.75},{"kind":"ms","x1":109.33,"x2":10,"y3":3.61},{"kind":"ms","x1":109.33,"x2":11.67,"y3":3.5},{"kind":"ms","x1":109.33,"x2":13.33,"y3":3.42},{"kind":"ms","x1":109.33,"x2":15,"y3":3.37},
{"kind":"ms","x1":110,"x2":5,"y3":4.12},{"kind":"ms","x1":110,"x2":6.67,"y3":3.91},{"kind":"ms","x1":110,"x2":8.33,"y3":3.73},{"kind":"ms","x1":110,"x2":10,"y3":3.57},{"kind":"ms","x1":110,"x2":11.67,"y3":3.44},{"kind":"ms","x1":110,"x2":13.33,"y3":3.34},{"kind":"ms","x1":110,"x2":15,"y3":3.28},
{"kind":"ms","x1":110.67,"x2":5,"y3":4.16},{"kind":"ms","x1":110.67,"x2":6.67,"y3":3.92},{"kind":"ms","x1":110.67,"x2":8.33,"y3":3.72},{"kind":"ms","x1":110.67,"x2":10,"y3":3.54},{"kind":"ms","x1":110.67,"x2":11.67,"y3":3.38},{"kind":"ms","x1":110.67,"x2":13.33,"y3":3.27},{"kind":"ms","x1":110.67,"x2":15,"y3":3.17},
{"kind":"ms","x1":111.33,"x2":5,"y3":4.2},{"kind":"ms","x1":111.33,"x2":6.67,"y3":3.94},{"kind":"ms","x1":111.33,"x2":8.33,"y3":3.71},{"kind":"ms","x1":111.33,"x2":10,"y3":3.51},{"kind":"ms","x1":111.33,"x2":11.67,"y3":3.33},{"kind":"ms","x1":111.33,"x2":13.33,"y3":3.2},{"kind":"ms","x1":111.33,"x2":15,"y3":3.08},
{"kind":"ms","x1":112,"x2":5,"y3":4.25},{"kind":"ms","x1":112,"x2":6.67,"y3":3.96},{"kind":"ms","x1":112,"x2":8.33,"y3":3.72},{"kind":"ms","x1":112,"x2":10,"y3":3.49},{"kind":"ms","x1":112,"x2":11.67,"y3":3.3},{"kind":"ms","x1":112,"x2":13.33,"y3":3.13},{"kind":"ms","x1":112,"x2":15,"y3":2.99},
{"kind":"ms","x1":112.67,"x2":5,"y3":4.29},{"kind":"ms","x1":112.67,"x2":6.67,"y3":3.99},{"kind":"ms","x1":112.67,"x2":8.33,"y3":3.73},{"kind":"ms","x1":112.67,"x2":10,"y3":3.48},{"kind":"ms","x1":112.67,"x2":11.67,"y3":3.27},{"kind":"ms","x1":112.67,"x2":13.33,"y3":3.07},{"kind":"ms","x1":112.67,"x2":15,"y3":2.91},
{"kind":"ms","x1":113.33,"x2":5,"y3":4.35},{"kind":"ms","x1":113.33,"x2":6.67,"y3":4.03},{"kind":"ms","x1":113.33,"x2":8.33,"y3":3.74},{"kind":"ms","x1":113.33,"x2":10,"y3":3.47},{"kind":"ms","x1":113.33,"x2":11.67,"y3":3.24},{"kind":"ms","x1":113.33,"x2":13.33,"y3":3.02},{"kind":"ms","x1":113.33,"x2":15,"y3":2.84},
{"kind":"ms","x1":114,"x2":5,"y3":4.42},{"kind":"ms","x1":114,"x2":6.67,"y3":4.08},{"kind":"ms","x1":114,"x2":8.33,"y3":3.77},{"kind":"ms","x1":114,"x2":10,"y3":3.47},{"kind":"ms","x1":114,"x2":11.67,"y3":3.22},{"kind":"ms","x1":114,"x2":13.33,"y3":2.98},{"kind":"ms","x1":114,"x2":15,"y3":2.78},
{"kind":"ms","x1":114.67,"x2":5,"y3":4.5},{"kind":"ms","x1":114.67,"x2":6.67,"y3":4.13},{"kind":"ms","x1":114.67,"x2":8.33,"y3":3.79},{"kind":"ms","x1":114.67,"x2":10,"y3":3.48},{"kind":"ms","x1":114.67,"x2":11.67,"y3":3.2},{"kind":"ms","x1":114.67,"x2":13.33,"y3":2.94},{"kind":"ms","x1":114.67,"x2":15,"y3":2.72},
{"kind":"ms","x1":115.33,"x2":5,"y3":4.58},{"kind":"ms","x1":115.33,"x2":6.67,"y3":4.19},{"kind":"ms","x1":115.33,"x2":8.33,"y3":3.82},{"kind":"ms","x1":115.33,"x2":10,"y3":3.49},{"kind":"ms","x1":115.33,"x2":11.67,"y3":3.19},{"kind":"ms","x1":115.33,"x2":13.33,"y3":2.91},{"kind":"ms","x1":115.33,"x2":15,"y3":2.67},
{"kind":"ms","x1":116,"x2":5,"y3":4.67},{"kind":"ms","x1":116,"x2":6.67,"y3":4.26},{"kind":"ms","x1":116,"x2":8.33,"y3":3.87},{"kind":"ms","x1":116,"x2":10,"y3":3.52},{"kind":"ms","x1":116,"x2":11.67,"y3":3.19},{"kind":"ms","x1":116,"x2":13.33,"y3":2.89},{"kind":"ms","x1":116,"x2":15,"y3":2.62},
{"kind":"ms","x1":116.67,"x2":5,"y3":4.77},{"kind":"ms","x1":116.67,"x2":6.67,"y3":4.32},{"kind":"ms","x1":116.67,"x2":8.33,"y3":3.92},{"kind":"ms","x1":116.67,"x2":10,"y3":3.54},{"kind":"ms","x1":116.67,"x2":11.67,"y3":3.2},{"kind":"ms","x1":116.67,"x2":13.33,"y3":2.87},{"kind":"ms","x1":116.67,"x2":15,"y3":2.58},
{"kind":"ms","x1":117.33,"x2":5,"y3":4.86},{"kind":"ms","x1":117.33,"x2":6.67,"y3":4.4},{"kind":"ms","x1":117.33,"x2":8.33,"y3":3.98},{"kind":"ms","x1":117.33,"x2":10,"y3":3.58},{"kind":"ms","x1":117.33,"x2":11.67,"y3":3.21},{"kind":"ms","x1":117.33,"x2":13.33,"y3":2.86},{"kind":"ms","x1":117.33,"x2":15,"y3":2.55},
{"kind":"ms","x1":118,"x2":5,"y3":4.97},{"kind":"ms","x1":118,"x2":6.67,"y3":4.49},{"kind":"ms","x1":118,"x2":8.33,"y3":4.04},{"kind":"ms","x1":118,"x2":10,"y3":3.62},{"kind":"ms","x1":118,"x2":11.67,"y3":3.23},{"kind":"ms","x1":118,"x2":13.33,"y3":2.85},{"kind":"ms","x1":118,"x2":15,"y3":2.52},
{"kind":"ms","x1":118.67,"x2":5,"y3":5.09},{"kind":"ms","x1":118.67,"x2":6.67,"y3":4.59},{"kind":"ms","x1":118.67,"x2":8.33,"y3":4.11},{"kind":"ms","x1":118.67,"x2":10,"y3":3.67},{"kind":"ms","x1":118.67,"x2":11.67,"y3":3.25},{"kind":"ms","x1":118.67,"x2":13.33,"y3":2.86},{"kind":"ms","x1":118.67,"x2":15,"y3":2.5},
{"kind":"ms","x1":119.33,"x2":5,"y3":5.21},{"kind":"ms","x1":119.33,"x2":6.67,"y3":4.69},{"kind":"ms","x1":119.33,"x2":8.33,"y3":4.19},{"kind":"ms","x1":119.33,"x2":10,"y3":3.72},{"kind":"ms","x1":119.33,"x2":11.67,"y3":3.29},{"kind":"ms","x1":119.33,"x2":13.33,"y3":2.87},{"kind":"ms","x1":119.33,"x2":15,"y3":2.49},
{"kind":"ms","x1":120,"x2":5,"y3":5.33},{"kind":"ms","x1":120,"x2":6.67,"y3":4.79},{"kind":"ms","x1":120,"x2":8.33,"y3":4.28},{"kind":"ms","x1":120,"x2":10,"y3":3.79},{"kind":"ms","x1":120,"x2":11.67,"y3":3.32},{"kind":"ms","x1":120,"x2":13.33,"y3":2.88},{"kind":"ms","x1":120,"x2":15,"y3":2.48},

{"kind":"ma","x1":100,"x2":5,"y3":4.41},{"kind":"ma","x1":103.33,"x2":5,"y3":4.15},{"kind":"ma","x1":106.67,"x2":5,"y3":4.05},{"kind":"ma","x1":110,"x2":5,"y3":4.12},{"kind":"ma","x1":113.33,"x2":5,"y3":4.35},{"kind":"ma","x1":116.67,"x2":5,"y3":4.77},{"kind":"ma","x1":120,"x2":5,"y3":5.33},
{"kind":"ma","x1":100,"x2":5.33,"y3":4.43},{"kind":"ma","x1":103.33,"x2":5.33,"y3":4.15},{"kind":"ma","x1":106.67,"x2":5.33,"y3":4.03},{"kind":"ma","x1":110,"x2":5.33,"y3":4.08},{"kind":"ma","x1":113.33,"x2":5.33,"y3":4.29},{"kind":"ma","x1":116.67,"x2":5.33,"y3":4.68},{"kind":"ma","x1":120,"x2":5.33,"y3":5.22},
{"kind":"ma","x1":100,"x2":5.67,"y3":4.46},{"kind":"ma","x1":103.33,"x2":5.67,"y3":4.15},{"kind":"ma","x1":106.67,"x2":5.67,"y3":4.01},{"kind":"ma","x1":110,"x2":5.67,"y3":4.03},{"kind":"ma","x1":113.33,"x2":5.67,"y3":4.23},{"kind":"ma","x1":116.67,"x2":5.67,"y3":4.59},{"kind":"ma","x1":120,"x2":5.67,"y3":5.11},
{"kind":"ma","x1":100,"x2":6,"y3":4.48},{"kind":"ma","x1":103.33,"x2":6,"y3":4.15},{"kind":"ma","x1":106.67,"x2":6,"y3":3.99},{"kind":"ma","x1":110,"x2":6,"y3":3.99},{"kind":"ma","x1":113.33,"x2":6,"y3":4.16},{"kind":"ma","x1":116.67,"x2":6,"y3":4.5},{"kind":"ma","x1":120,"x2":6,"y3":5},
{"kind":"ma","x1":100,"x2":6.33,"y3":4.51},{"kind":"ma","x1":103.33,"x2":6.33,"y3":4.16},{"kind":"ma","x1":106.67,"x2":6.33,"y3":3.97},{"kind":"ma","x1":110,"x2":6.33,"y3":3.95},{"kind":"ma","x1":113.33,"x2":6.33,"y3":4.1},{"kind":"ma","x1":116.67,"x2":6.33,"y3":4.41},{"kind":"ma","x1":120,"x2":6.33,"y3":4.89},
{"kind":"ma","x1":100,"x2":6.67,"y3":4.54},{"kind":"ma","x1":103.33,"x2":6.67,"y3":4.16},{"kind":"ma","x1":106.67,"x2":6.67,"y3":3.95},{"kind":"ma","x1":110,"x2":6.67,"y3":3.91},{"kind":"ma","x1":113.33,"x2":6.67,"y3":4.03},{"kind":"ma","x1":116.67,"x2":6.67,"y3":4.32},{"kind":"ma","x1":120,"x2":6.67,"y3":4.79},
{"kind":"ma","x1":100,"x2":7,"y3":4.56},{"kind":"ma","x1":103.33,"x2":7,"y3":4.17},{"kind":"ma","x1":106.67,"x2":7,"y3":3.93},{"kind":"ma","x1":110,"x2":7,"y3":3.87},{"kind":"ma","x1":113.33,"x2":7,"y3":3.97},{"kind":"ma","x1":116.67,"x2":7,"y3":4.25},{"kind":"ma","x1":120,"x2":7,"y3":4.69},
{"kind":"ma","x1":100,"x2":7.33,"y3":4.59},{"kind":"ma","x1":103.33,"x2":7.33,"y3":4.17},{"kind":"ma","x1":106.67,"x2":7.33,"y3":3.92},{"kind":"ma","x1":110,"x2":7.33,"y3":3.83},{"kind":"ma","x1":113.33,"x2":7.33,"y3":3.91},{"kind":"ma","x1":116.67,"x2":7.33,"y3":4.16},{"kind":"ma","x1":120,"x2":7.33,"y3":4.58},
{"kind":"ma","x1":100,"x2":7.67,"y3":4.62},{"kind":"ma","x1":103.33,"x2":7.67,"y3":4.18},{"kind":"ma","x1":106.67,"x2":7.67,"y3":3.9},{"kind":"ma","x1":110,"x2":7.67,"y3":3.79},{"kind":"ma","x1":113.33,"x2":7.67,"y3":3.85},{"kind":"ma","x1":116.67,"x2":7.67,"y3":4.08},{"kind":"ma","x1":120,"x2":7.67,"y3":4.47},
{"kind":"ma","x1":100,"x2":8,"y3":4.66},{"kind":"ma","x1":103.33,"x2":8,"y3":4.19},{"kind":"ma","x1":106.67,"x2":8,"y3":3.89},{"kind":"ma","x1":110,"x2":8,"y3":3.76},{"kind":"ma","x1":113.33,"x2":8,"y3":3.79},{"kind":"ma","x1":116.67,"x2":8,"y3":4},{"kind":"ma","x1":120,"x2":8,"y3":4.37},
{"kind":"ma","x1":100,"x2":8.33,"y3":4.69},{"kind":"ma","x1":103.33,"x2":8.33,"y3":4.2},{"kind":"ma","x1":106.67,"x2":8.33,"y3":3.87},{"kind":"ma","x1":110,"x2":8.33,"y3":3.73},{"kind":"ma","x1":113.33,"x2":8.33,"y3":3.74},{"kind":"ma","x1":116.67,"x2":8.33,"y3":3.92},{"kind":"ma","x1":120,"x2":8.33,"y3":4.28},
{"kind":"ma","x1":100,"x2":8.67,"y3":4.72},{"kind":"ma","x1":103.33,"x2":8.67,"y3":4.21},{"kind":"ma","x1":106.67,"x2":8.67,"y3":3.86},{"kind":"ma","x1":110,"x2":8.67,"y3":3.69},{"kind":"ma","x1":113.33,"x2":8.67,"y3":3.69},{"kind":"ma","x1":116.67,"x2":8.67,"y3":3.84},{"kind":"ma","x1":120,"x2":8.67,"y3":4.17},
{"kind":"ma","x1":100,"x2":9,"y3":4.76},{"kind":"ma","x1":103.33,"x2":9,"y3":4.23},{"kind":"ma","x1":106.67,"x2":9,"y3":3.85},{"kind":"ma","x1":110,"x2":9,"y3":3.66},{"kind":"ma","x1":113.33,"x2":9,"y3":3.63},{"kind":"ma","x1":116.67,"x2":9,"y3":3.77},{"kind":"ma","x1":120,"x2":9,"y3":4.07},
{"kind":"ma","x1":100,"x2":9.33,"y3":4.79},{"kind":"ma","x1":103.33,"x2":9.33,"y3":4.24},{"kind":"ma","x1":106.67,"x2":9.33,"y3":3.84},{"kind":"ma","x1":110,"x2":9.33,"y3":3.63},{"kind":"ma","x1":113.33,"x2":9.33,"y3":3.58},{"kind":"ma","x1":116.67,"x2":9.33,"y3":3.69},{"kind":"ma","x1":120,"x2":9.33,"y3":3.97},
{"kind":"ma","x1":100,"x2":9.67,"y3":4.82},{"kind":"ma","x1":103.33,"x2":9.67,"y3":4.25},{"kind":"ma","x1":106.67,"x2":9.67,"y3":3.84},{"kind":"ma","x1":110,"x2":9.67,"y3":3.6},{"kind":"ma","x1":113.33,"x2":9.67,"y3":3.52},{"kind":"ma","x1":116.67,"x2":9.67,"y3":3.62},{"kind":"ma","x1":120,"x2":9.67,"y3":3.87},
{"kind":"ma","x1":100,"x2":10,"y3":4.86},{"kind":"ma","x1":103.33,"x2":10,"y3":4.27},{"kind":"ma","x1":106.67,"x2":10,"y3":3.83},{"kind":"ma","x1":110,"x2":10,"y3":3.57},{"kind":"ma","x1":113.33,"x2":10,"y3":3.47},{"kind":"ma","x1":116.67,"x2":10,"y3":3.54},{"kind":"ma","x1":120,"x2":10,"y3":3.79},
{"kind":"ma","x1":100,"x2":10.33,"y3":4.9},{"kind":"ma","x1":103.33,"x2":10.33,"y3":4.28},{"kind":"ma","x1":106.67,"x2":10.33,"y3":3.82},{"kind":"ma","x1":110,"x2":10.33,"y3":3.54},{"kind":"ma","x1":113.33,"x2":10.33,"y3":3.42},{"kind":"ma","x1":116.67,"x2":10.33,"y3":3.47},{"kind":"ma","x1":120,"x2":10.33,"y3":3.69},
{"kind":"ma","x1":100,"x2":10.67,"y3":4.94},{"kind":"ma","x1":103.33,"x2":10.67,"y3":4.3},{"kind":"ma","x1":106.67,"x2":10.67,"y3":3.82},{"kind":"ma","x1":110,"x2":10.67,"y3":3.51},{"kind":"ma","x1":113.33,"x2":10.67,"y3":3.37},{"kind":"ma","x1":116.67,"x2":10.67,"y3":3.4},{"kind":"ma","x1":120,"x2":10.67,"y3":3.59},
{"kind":"ma","x1":100,"x2":11,"y3":4.98},{"kind":"ma","x1":103.33,"x2":11,"y3":4.32},{"kind":"ma","x1":106.67,"x2":11,"y3":3.82},{"kind":"ma","x1":110,"x2":11,"y3":3.49},{"kind":"ma","x1":113.33,"x2":11,"y3":3.32},{"kind":"ma","x1":116.67,"x2":11,"y3":3.33},{"kind":"ma","x1":120,"x2":11,"y3":3.5},
{"kind":"ma","x1":100,"x2":11.33,"y3":5.03},{"kind":"ma","x1":103.33,"x2":11.33,"y3":4.34},{"kind":"ma","x1":106.67,"x2":11.33,"y3":3.81},{"kind":"ma","x1":110,"x2":11.33,"y3":3.46},{"kind":"ma","x1":113.33,"x2":11.33,"y3":3.28},{"kind":"ma","x1":116.67,"x2":11.33,"y3":3.27},{"kind":"ma","x1":120,"x2":11.33,"y3":3.41},
{"kind":"ma","x1":100,"x2":11.67,"y3":5.07},{"kind":"ma","x1":103.33,"x2":11.67,"y3":4.36},{"kind":"ma","x1":106.67,"x2":11.67,"y3":3.81},{"kind":"ma","x1":110,"x2":11.67,"y3":3.44},{"kind":"ma","x1":113.33,"x2":11.67,"y3":3.24},{"kind":"ma","x1":116.67,"x2":11.67,"y3":3.2},{"kind":"ma","x1":120,"x2":11.67,"y3":3.32},
{"kind":"ma","x1":100,"x2":12,"y3":5.12},{"kind":"ma","x1":103.33,"x2":12,"y3":4.38},{"kind":"ma","x1":106.67,"x2":12,"y3":3.81},{"kind":"ma","x1":110,"x2":12,"y3":3.42},{"kind":"ma","x1":113.33,"x2":12,"y3":3.19},{"kind":"ma","x1":116.67,"x2":12,"y3":3.13},{"kind":"ma","x1":120,"x2":12,"y3":3.24},
{"kind":"ma","x1":100,"x2":12.33,"y3":5.17},{"kind":"ma","x1":103.33,"x2":12.33,"y3":4.4},{"kind":"ma","x1":106.67,"x2":12.33,"y3":3.81},{"kind":"ma","x1":110,"x2":12.33,"y3":3.4},{"kind":"ma","x1":113.33,"x2":12.33,"y3":3.15},{"kind":"ma","x1":116.67,"x2":12.33,"y3":3.06},{"kind":"ma","x1":120,"x2":12.33,"y3":3.15},
{"kind":"ma","x1":100,"x2":12.67,"y3":5.21},{"kind":"ma","x1":103.33,"x2":12.67,"y3":4.43},{"kind":"ma","x1":106.67,"x2":12.67,"y3":3.82},{"kind":"ma","x1":110,"x2":12.67,"y3":3.38},{"kind":"ma","x1":113.33,"x2":12.67,"y3":3.11},{"kind":"ma","x1":116.67,"x2":12.67,"y3":3},{"kind":"ma","x1":120,"x2":12.67,"y3":3.06},
{"kind":"ma","x1":100,"x2":13,"y3":5.25},{"kind":"ma","x1":103.33,"x2":13,"y3":4.46},{"kind":"ma","x1":106.67,"x2":13,"y3":3.82},{"kind":"ma","x1":110,"x2":13,"y3":3.36},{"kind":"ma","x1":113.33,"x2":13,"y3":3.06},{"kind":"ma","x1":116.67,"x2":13,"y3":2.93},{"kind":"ma","x1":120,"x2":13,"y3":2.97},
{"kind":"ma","x1":100,"x2":13.33,"y3":5.3},{"kind":"ma","x1":103.33,"x2":13.33,"y3":4.48},{"kind":"ma","x1":106.67,"x2":13.33,"y3":3.83},{"kind":"ma","x1":110,"x2":13.33,"y3":3.34},{"kind":"ma","x1":113.33,"x2":13.33,"y3":3.02},{"kind":"ma","x1":116.67,"x2":13.33,"y3":2.87},{"kind":"ma","x1":120,"x2":13.33,"y3":2.88},
{"kind":"ma","x1":100,"x2":13.67,"y3":5.35},{"kind":"ma","x1":103.33,"x2":13.67,"y3":4.51},{"kind":"ma","x1":106.67,"x2":13.67,"y3":3.83},{"kind":"ma","x1":110,"x2":13.67,"y3":3.32},{"kind":"ma","x1":113.33,"x2":13.67,"y3":2.98},{"kind":"ma","x1":116.67,"x2":13.67,"y3":2.81},{"kind":"ma","x1":120,"x2":13.67,"y3":2.81},
{"kind":"ma","x1":100,"x2":14,"y3":5.41},{"kind":"ma","x1":103.33,"x2":14,"y3":4.54},{"kind":"ma","x1":106.67,"x2":14,"y3":3.84},{"kind":"ma","x1":110,"x2":14,"y3":3.31},{"kind":"ma","x1":113.33,"x2":14,"y3":2.95},{"kind":"ma","x1":116.67,"x2":14,"y3":2.75},{"kind":"ma","x1":120,"x2":14,"y3":2.73},
{"kind":"ma","x1":100,"x2":14.33,"y3":5.46},{"kind":"ma","x1":103.33,"x2":14.33,"y3":4.57},{"kind":"ma","x1":106.67,"x2":14.33,"y3":3.85},{"kind":"ma","x1":110,"x2":14.33,"y3":3.3},{"kind":"ma","x1":113.33,"x2":14.33,"y3":2.91},{"kind":"ma","x1":116.67,"x2":14.33,"y3":2.69},{"kind":"ma","x1":120,"x2":14.33,"y3":2.64},
{"kind":"ma","x1":100,"x2":14.67,"y3":5.51},{"kind":"ma","x1":103.33,"x2":14.67,"y3":4.61},{"kind":"ma","x1":106.67,"x2":14.67,"y3":3.86},{"kind":"ma","x1":110,"x2":14.67,"y3":3.29},{"kind":"ma","x1":113.33,"x2":14.67,"y3":2.87},{"kind":"ma","x1":116.67,"x2":14.67,"y3":2.64},{"kind":"ma","x1":120,"x2":14.67,"y3":2.56},
{"kind":"ma","x1":100,"x2":15,"y3":5.57},{"kind":"ma","x1":103.33,"x2":15,"y3":4.64},{"kind":"ma","x1":106.67,"x2":15,"y3":3.87},{"kind":"ma","x1":110,"x2":15,"y3":3.28},{"kind":"ma","x1":113.33,"x2":15,"y3":2.84},{"kind":"ma","x1":116.67,"x2":15,"y3":2.58},{"kind":"ma","x1":120,"x2":15,"y3":2.48},

{"kind":"lab","x1":100,"x2":15.75,"y3":6.15,"text":"6"},{"kind":"lab","x1":100,"x2":15.75,"y3":5.18,"text":"5"},{"kind":"lab","x1":100,"x2":15.75,"y3":4.165,"text":"4"},{"kind":"lab","x1":100,"x2":15.75,"y3":3.16,"text":"3"},{"kind":"lab","x1":100,"x2":15.75,"y3":2.18,"text":"2"},{"kind":"lab","x1":100,"x2":15.75,"y3":1.197,"text":"1"},
{"kind":"lab","x1":101.2,"x2":15.9,"y3":0.12,"text":"100"},{"kind":"lab","x1":106.1,"x2":15.87,"y3":0.12,"text":"105"},{"kind":"lab","x1":111.39,"x2":15.91,"y3":0.12,"text":"110"},{"kind":"lab","x1":116.37,"x2":15.91,"y3":0.12,"text":"115"},{"kind":"lab","x1":121.2,"x2":15.8,"y3":0.12,"text":"120"},
{"kind":"lab","x1":121.78,"x2":6.38,"y3":0.12,"text":"6"},{"kind":"lab","x1":121.74,"x2":8.34,"y3":0.12,"text":"8"},{"kind":"lab","x1":121.96,"x2":10.27,"y3":0.12,"text":"10"},{"kind":"lab","x1":121.91,"x2":12.27,"y3":0.12,"text":"12"},{"kind":"lab","x1":121.9,"x2":14.25,"y3":0.12,"text":"14"},

{"kind":"ty1","x1":100,"x2":17.87,"y3":1.656,"text":"Variation coefficient of sandy soil"},
{"kind":"ty2","x1":100,"x2":16.94,"y3":2.229,"text":"removal velocity"},
{"kind":"ty3","x1":100,"x2":16.94,"y3":2.229,"text":"Y"},
{"kind":"ty4","x1":100,"x2":16.94,"y3":2.229,"text":"3"},
{"kind":"ty5","x1":100,"x2":16.94,"y3":2.229,"text":"(%)"},
{"kind":"ts1","x1":105.04,"x2":17.24,"y3":0.12,"text":"Spiral speed"},
{"kind":"ts2","x1":105.04,"x2":17.24,"y3":0.12,"text":"x"},
{"kind":"ts3","x1":105.04,"x2":17.24,"y3":0.12,"text":"1"},
{"kind":"ts4","x1":105.04,"x2":17.24,"y3":0.12,"text":"/(r/min)"},
{"kind":"ta1","x1":124.31,"x2":14.18,"y3":0.12,"text":"Amplitude"},
{"kind":"ta2","x1":124.31,"x2":14.18,"y3":0.12,"text":"x"},
{"kind":"ta3","x1":124.31,"x2":14.18,"y3":0.12,"text":"2"},
{"kind":"ta4","x1":124.31,"x2":14.18,"y3":0.12,"text":"/(mm)"}
]},
"transform":[
{"calculate":"(datum.x1-100)/20","as":"u"},
{"calculate":"(15-datum.x2)/10","as":"v"},
{"calculate":"datum.y3-0.12","as":"z"},
{"calculate":"1-0.18436*datum.u+0.21612*datum.v-0.01415*datum.z","as":"w"},
{"calculate":"(599.8*datum.u+902.2*datum.v+348-15.21*datum.z)/datum.w","as":"sx"},
{"calculate":"(67.7*datum.u-83.2*datum.v+1168-179.4*datum.z)/datum.w","as":"sy"},
{"calculate":"1-0.18436*datum.u+0.21612*datum.v","as":"w0"},
{"calculate":"(599.8*datum.u+902.2*datum.v+348)/datum.w0","as":"fx"},
{"calculate":"(67.7*datum.u-83.2*datum.v+1168)/datum.w0","as":"fy"}
],
"encoding":{
"x":{"field":"sx","type":"quantitative","scale":{"domain":[0,1882],"range":[0,1882],"nice":false,"zero":false},"axis":null},
"y":{"field":"sy","type":"quantitative","scale":{"domain":[0,1626],"range":[0,1626],"nice":false,"zero":false},"axis":null},
"order":{"value":null}
},
"layer":[
{"transform":[{"filter":"datum.kind==='grid'"}],"mark":{"type":"line","stroke":"#c4c4c4","strokeWidth":1.8,"strokeDash":[2,2.5]},"encoding":{"detail":{"field":"id"}}},
{"transform":[{"filter":"datum.kind==='frame'"}],"mark":{"type":"line","stroke":"#4d4d4d","strokeWidth":3,"strokeDash":[2.5,1.2]},"encoding":{"detail":{"field":"id"}}},
{"transform":[{"filter":"datum.kind==='band'"}],"mark":{"type":"line","strokeOpacity":0,"strokeWidth":0},"encoding":{"x":{"field":"fx","type":"quantitative","axis":null},"y":{"field":"fy","type":"quantitative","axis":null},"fill":{"field":"band","type":"nominal","legend":null,"scale":{"domain":["r0","r1","r2","r3","r4","r5"],"range":["#ff0000","#ff8000","#ffff00","#80ff00","#00ff00","#00ff50"]}}}},
{"transform":[{"filter":"datum.kind==='ms'"}],"mark":{"type":"line","stroke":"#ffffff","strokeOpacity":0.16,"strokeWidth":1.2},"encoding":{"x":{"field":"fx","type":"quantitative","axis":null},"y":{"field":"fy","type":"quantitative","axis":null},"detail":{"field":"x1"}}},
{"transform":[{"filter":"datum.kind==='ma'"}],"mark":{"type":"line","stroke":"#ffffff","strokeOpacity":0.16,"strokeWidth":1.2},"encoding":{"x":{"field":"fx","type":"quantitative","axis":null},"y":{"field":"fy","type":"quantitative","axis":null},"detail":{"field":"x2"}}},
{"transform":[{"filter":"datum.kind==='band'&&datum.c"}],"mark":{"type":"line","stroke":"#000000","strokeWidth":4,"interpolate":"catmull-rom"},"encoding":{"x":{"field":"fx","type":"quantitative","axis":null},"y":{"field":"fy","type":"quantitative","axis":null},"detail":{"field":"c"}}},
{"transform":[{"filter":"datum.kind==='edge'"}],"mark":{"type":"line","stroke":"#000000","strokeWidth":2.6}},
{"transform":[{"filter":"datum.kind==='zaxis'"}],"mark":{"type":"line","stroke":"#000000","strokeWidth":5}},
{"transform":[{"filter":"datum.kind==='major'"}],"mark":{"type":"line","stroke":"#000000","strokeWidth":4},"encoding":{"detail":{"field":"id"}}},
{"transform":[{"filter":"datum.kind==='minor'"}],"mark":{"type":"line","stroke":"#000000","strokeWidth":3.2},"encoding":{"detail":{"field":"id"}}},
{"transform":[{"filter":"datum.kind==='band'"}],"mark":{"type":"line","strokeOpacity":0,"strokeWidth":0},"encoding":{"fill":{"field":"band","type":"nominal","legend":null}}},
{"transform":[{"filter":"datum.kind==='ms'"}],"mark":{"type":"line","stroke":"#000000","strokeWidth":2.1,"interpolate":"catmull-rom"},"encoding":{"detail":{"field":"x1"}}},
{"transform":[{"filter":"datum.kind==='ma'"}],"mark":{"type":"line","stroke":"#000000","strokeWidth":2.1,"interpolate":"catmull-rom"},"encoding":{"detail":{"field":"x2"}}},
{"transform":[{"filter":"datum.kind==='band'&&datum.c"}],"mark":{"type":"line","stroke":"#000000","strokeWidth":4,"interpolate":"catmull-rom"},"encoding":{"detail":{"field":"c"}}},
{"transform":[{"filter":"datum.kind==='lab'"}],"mark":{"type":"text","font":"Liberation Serif","fontSize":53,"align":"center","baseline":"middle","color":"#000000"},"encoding":{"text":{"field":"text"}}},
{"transform":[{"filter":"datum.kind==='ty1'"}],"mark":{"type":"text","font":"Liberation Serif","fontSize":63,"align":"left","baseline":"alphabetic","angle":270,"color":"#000000"},"encoding":{"text":{"field":"text"}}},
{"transform":[{"filter":"datum.kind==='ty2'"}],"mark":{"type":"text","font":"Liberation Serif","fontSize":62,"align":"left","baseline":"alphabetic","angle":270,"color":"#000000"},"encoding":{"text":{"field":"text"}}},
{"transform":[{"filter":"datum.kind==='ty3'"}],"mark":{"type":"text","font":"Liberation Serif","fontSize":62,"fontStyle":"italic","align":"left","baseline":"alphabetic","angle":270,"dx":449,"color":"#000000"},"encoding":{"text":{"field":"text"}}},
{"transform":[{"filter":"datum.kind==='ty4'"}],"mark":{"type":"text","font":"Liberation Serif","fontSize":40,"align":"left","baseline":"alphabetic","angle":270,"dx":490,"dy":-4,"color":"#000000"},"encoding":{"text":{"field":"text"}}},
{"transform":[{"filter":"datum.kind==='ty5'"}],"mark":{"type":"text","font":"Liberation Serif","fontSize":62,"align":"left","baseline":"alphabetic","angle":270,"dx":513,"color":"#000000"},"encoding":{"text":{"field":"text"}}},
{"transform":[{"filter":"datum.kind==='ts1'"}],"mark":{"type":"text","font":"Liberation Serif","fontSize":62,"align":"left","baseline":"alphabetic","angle":25.5,"color":"#000000"},"encoding":{"text":{"field":"text"}}},
{"transform":[{"filter":"datum.kind==='ts2'"}],"mark":{"type":"text","font":"Liberation Serif","fontSize":62,"fontStyle":"italic","align":"left","baseline":"alphabetic","angle":25.5,"dx":322,"color":"#000000"},"encoding":{"text":{"field":"text"}}},
{"transform":[{"filter":"datum.kind==='ts3'"}],"mark":{"type":"text","font":"Liberation Serif","fontSize":38,"align":"left","baseline":"alphabetic","angle":25.5,"dx":350,"dy":26,"color":"#000000"},"encoding":{"text":{"field":"text"}}},
{"transform":[{"filter":"datum.kind==='ts4'"}],"mark":{"type":"text","font":"Liberation Serif","fontSize":62,"align":"left","baseline":"alphabetic","angle":25.5,"dx":372,"color":"#000000"},"encoding":{"text":{"field":"text"}}},
{"transform":[{"filter":"datum.kind==='ta1'"}],"mark":{"type":"text","font":"Liberation Serif","fontSize":62,"align":"left","baseline":"alphabetic","angle":-38,"color":"#000000"},"encoding":{"text":{"field":"text"}}},
{"transform":[{"filter":"datum.kind==='ta2'"}],"mark":{"type":"text","font":"Liberation Serif","fontSize":62,"fontStyle":"italic","align":"left","baseline":"alphabetic","angle":-38,"dx":281,"color":"#000000"},"encoding":{"text":{"field":"text"}}},
{"transform":[{"filter":"datum.kind==='ta3'"}],"mark":{"type":"text","font":"Liberation Serif","fontSize":38,"align":"left","baseline":"alphabetic","angle":-38,"dx":311,"dy":28,"color":"#000000"},"encoding":{"text":{"field":"text"}}},
{"transform":[{"filter":"datum.kind==='ta4'"}],"mark":{"type":"text","font":"Liberation Serif","fontSize":62,"align":"left","baseline":"alphabetic","angle":-38,"dx":333,"color":"#000000"},"encoding":{"text":{"field":"text"}}}
]
}
